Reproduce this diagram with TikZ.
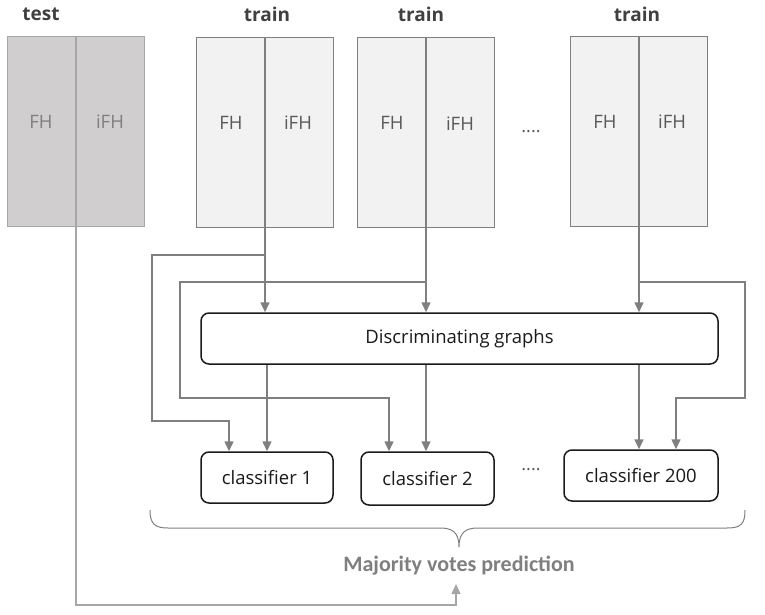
\documentclass[tikz,border=0pt]{standalone}
\usepackage{fontspec}
\setmainfont{Open Sans}
\newfontfamily\calib{Carlito}
\usetikzlibrary{arrows.meta}
\definecolor{conngray}{HTML}{7F7F7F}
\definecolor{lightline}{HTML}{A6A6A6}
\definecolor{testfill}{HTML}{D0CECE}
\definecolor{trainfill}{HTML}{F2F2F2}
\definecolor{titlegray}{HTML}{404040}
\definecolor{txtgray}{HTML}{595959}
\definecolor{boxblack}{HTML}{1A1A1A}
\tikzset{
  half/.style={draw=conngray, line width=1.4pt, fill=trainfill, minimum width=68, minimum height=190, inner sep=0},
  testhalf/.style={half, draw=lightline, fill=testfill},
  lbl/.style={font=\fontsize{18.5}{22}\selectfont, text=txtgray, inner sep=0},
  testlbl/.style={lbl, text=conngray},
  ttl/.style={font=\fontsize{19}{22}\selectfont\bfseries, text=titlegray, inner sep=0},
  rbox/.style={draw=boxblack, line width=1.5pt, rounded corners=8pt, fill=white, inner sep=0, font=\fontsize{18.5}{22}\selectfont, text=boxblack},
  conn/.style={draw=conngray, line width=1.5pt, -{Triangle[length=10pt,width=9pt]}},
  dots/.style={font=\fontsize{18}{22}\selectfont, text=txtgray, inner sep=0}
}
\begin{document}
\begin{tikzpicture}[x=1pt,y=-1pt]
\useasboundingbox (0,0) rectangle (765,615);
% titles
\node[ttl] (tt0) at (41,14) {test};
\node[ttl] (tt1) at (267,14) {train};
\node[ttl] (tt2) at (421,14) {train};
\node[ttl] (tt3) at (637,14) {train};
% test box
\node[testhalf, anchor=north east] (t0a) at (76,36) {};
\node[testhalf, anchor=north west] (t0b) at (76,36) {};
\node[testlbl] (l0a) at (41,122) {FH};
\node[testlbl] (l0b) at (110,122) {iFH};
% train boxes
\node[half, anchor=north east] (t1a) at (265,37) {};
\node[half, anchor=north west] (t1b) at (265,37) {};
\node[lbl] (l1a) at (231,123) {FH};
\node[lbl] (l1b) at (298,123) {iFH};
\node[half, anchor=north east] (t2a) at (426,37) {};
\node[half, anchor=north west] (t2b) at (426,37) {};
\node[lbl] (l2a) at (392,123) {FH};
\node[lbl] (l2b) at (460,124) {iFH};
\node[half, anchor=north east] (t3a) at (639,36) {};
\node[half, anchor=north west] (t3b) at (639,36) {};
\node[lbl] (l3a) at (605,122) {FH};
\node[lbl] (l3b) at (672,122) {iFH};
\node[dots] (dt) at (531,132) {....};
% discriminating graphs
\node[rbox, minimum width=517, minimum height=51] (d) at (459.5,338.5) {Discriminating graphs};
% classifiers
\node[rbox, minimum width=132, minimum height=51] (c1) at (267,477.5) {classifier 1};
\node[rbox, minimum width=133, minimum height=53] (c2) at (427.5,478.5) {classifier 2};
\node[rbox, minimum width=154, minimum height=51] (c3) at (641,475.5) {classifier 200};
\node[dots] (dc) at (531,470) {....};
% train to discriminating
\draw[conn] (t1a.south east) -- (t1a.south east |- d.north);
\draw[conn] (t2a.south east) -- (t2a.south east |- d.north);
\draw[conn] (t3a.south east) -- (t3a.south east |- d.north);
% branches
\coordinate (b1) at (265,255);
\coordinate (b2) at (426,282);
\coordinate (b3) at (639,282);
\draw[conn] (b1) -- (152,255) -- (152,421) -- (229,421) -- (c1.north -| 229,0);
\draw[conn] (b2) -- (180,282) -- (180,398) -- (389,398) -- (c2.north -| 389,0);
\draw[conn] (b3) -- (745,282) -- (745,398) -- (676,398) -- (c3.north -| 676,0);
% discriminating to classifiers
\draw[conn] (d.south -| 267,0) -- (c1.north -| 267,0);
\draw[conn] (d.south -| 426,0) -- (c2.north -| 426,0);
\draw[conn] (d.south -| 639,0) -- (c3.north -| 639,0);
% brace
\draw[conngray, line width=1pt] (150,510) .. controls (150,524) and (155,528) .. (168,528) -- (440,528) .. controls (452,528) and (459,532) .. (459,547)
  .. controls (459,532) and (466,528) .. (478,528) -- (727,528) .. controls (741,528) and (745,524) .. (745,510);
% majority
\node[font=\calib\fontsize{22}{26}\selectfont\bfseries, text=conngray, inner sep=0] (mv) at (459,566) {Majority votes prediction};
\coordinate (mvin) at (456,584);
\draw[draw=lightline, line width=1.5pt, -{Triangle[length=10pt,width=9pt]}] (t0a.south east) -- (76,605) -- (456,605) -- (mvin);
\end{tikzpicture}
\end{document}
